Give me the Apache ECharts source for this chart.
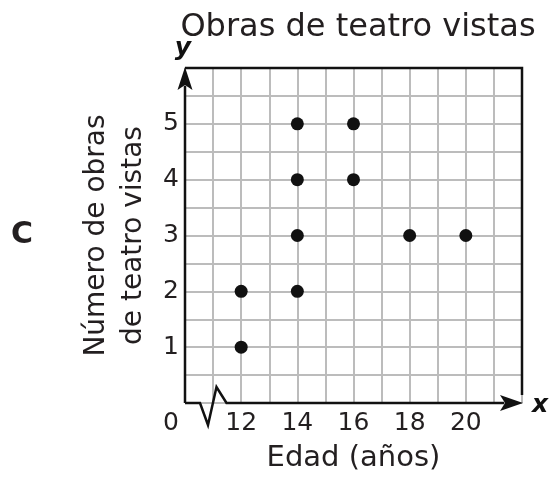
<!DOCTYPE html>
<html><head><meta charset="utf-8">
<script src="https://cdn.jsdelivr.net/npm/echarts@6/dist/echarts.min.js"></script>
<style>html,body{margin:0;padding:0;background:#fff}#c{width:552px;height:478px}</style>
</head><body><div id="c"></div>
<script>
const titleText = 'Obras de teatro vistas';
const xName = 'Edad (años)';
const yName = 'Número de obras\nde teatro vistas';
const ages = [12, 12, 14, 14, 14, 14, 16, 16, 18, 20];
const plays = [1, 2, 2, 3, 4, 5, 4, 5, 3, 3];
const xTickLabels = [12, 14, 16, 18, 20];
const yTickLabels = [1, 2, 3, 4, 5];

const FONT = 'DejaVu Sans';
const INK = '#231f20';
const chart = echarts.init(document.getElementById('c'), null, {renderer: 'canvas'});
chart.setOption({
  animation: false,
  backgroundColor: '#fff',
  title: {
    text: titleText, left: 353, top: 7, textAlign: 'center',
    textStyle: {fontFamily: FONT, fontSize: 32, fontWeight: 'normal', color: INK}
  },
  grid: {left: 185, top: 68, width: 337, height: 336},
  xAxis: {
    type: 'value', min: 10, max: 22, interval: 1,
    name: xName, nameLocation: 'middle', nameGap: 41,
    nameTextStyle: {fontFamily: FONT, fontSize: 29, color: INK},
    axisLine: {show: false}, axisTick: {show: false},
    splitLine: {show: true, lineStyle: {color: '#bcbcbc', width: 2}},
    axisLabel: {
      margin: 8, fontFamily: FONT, fontSize: 25, color: INK,
      formatter: v => v === 10 ? '{z|0}' : (xTickLabels.indexOf(v) >= 0 ? String(v) : ''),
      rich: {z: {fontFamily: FONT, fontSize: 25, color: INK, padding: [0, 28, 0, 0]}}
    }
  },
  yAxis: {
    type: 'value', min: 0, max: 6, interval: 0.5,
    name: yName, nameLocation: 'middle', nameGap: 20,
    nameTextStyle: {fontFamily: FONT, fontSize: 28, color: INK, lineHeight: 37},
    axisLine: {show: false}, axisTick: {show: false},
    splitLine: {show: true, lineStyle: {color: '#bcbcbc', width: 2}},
    axisLabel: {
      margin: 6, fontFamily: FONT, fontSize: 25, color: INK,
      formatter: v => yTickLabels.indexOf(v) >= 0 ? String(v) : ''
    }
  },
  series: [{
    type: 'scatter', symbol: 'circle', symbolSize: 13,
    itemStyle: {color: '#111', opacity: 1},
    data: ages.map((a, i) => [a, plays[i]])
  }]
});

// axes frame, arrows and axis break
const o = chart.convertToPixel({gridIndex: 0}, [10, 0]);
const tr = chart.convertToPixel({gridIndex: 0}, [22, 6]);
const x0 = o[0], y0 = o[1], x1 = tr[0], y1 = tr[1];
const L = {stroke: '#111', lineWidth: 2.5, fill: null};
chart.setOption({
  graphic: [
    {type: 'polyline', shape: {points: [[x0, y1], [x1, y1], [x1, y0 - 8]]}, style: L, z: 50},
    {type: 'polyline', shape: {points: [[x0, y0], [x0, y1 + 18]]}, style: L, z: 50},
    {type: 'polyline', shape: {points: [[x0, y0], [x0 + 15, y0], [x0 + 23, y0 + 22], [x0 + 31.5, y0 - 16], [x0 + 41.5, y0], [x1 - 18, y0]]}, style: L, z: 50},
    {type: 'polygon', shape: {points: [[x0, y1 - 1], [x0 - 7.5, y1 + 22], [x0, y1 + 17], [x0 + 7.5, y1 + 22]]}, style: {fill: '#111'}, z: 51},
    {type: 'polygon', shape: {points: [[x1 + 1, y0], [x1 - 22, y0 - 8], [x1 - 17, y0], [x1 - 22, y0 + 8]]}, style: {fill: '#111'}, z: 51},
    {type: 'text', x: x0 - 2, y: y1 - 20, style: {text: 'y', font: 'italic bold 25px "DejaVu Sans"', fill: '#111', align: 'center', verticalAlign: 'middle'}, z: 52},
    {type: 'text', x: x1 + 18, y: y0 + 2, style: {text: 'x', font: 'italic bold 25px "DejaVu Sans"', fill: '#111', align: 'center', verticalAlign: 'middle'}, z: 52},
    {type: 'text', x: 22, y: 235, style: {text: 'C', font: 'bold 30px "DejaVu Sans"', fill: INK, align: 'center', verticalAlign: 'middle'}, z: 52}
  ]
});
</script></body></html>
